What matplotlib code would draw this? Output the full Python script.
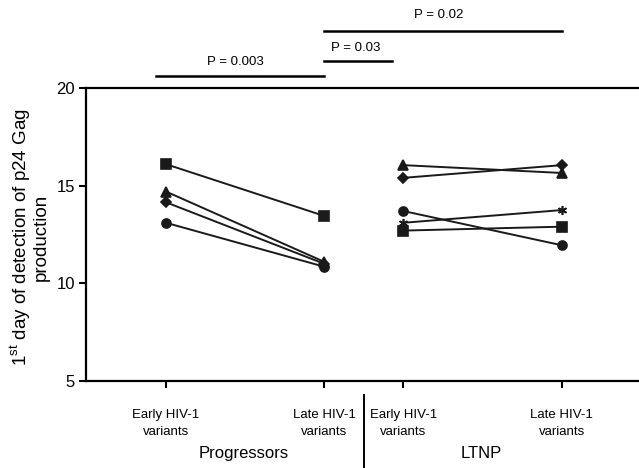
import matplotlib
matplotlib.use('Agg')
import matplotlib.pyplot as plt
from matplotlib.transforms import blended_transform_factory

plt.rcParams['font.family'] = ['Liberation Sans', 'DejaVu Sans']
plt.rcParams['mathtext.fontset'] = 'custom'
plt.rcParams['mathtext.rm'] = 'Liberation Sans'

# x positions of the four groups
prog_x = [1, 2]
ltnp_x = [2.5, 3.5]
tick_labels = ['Early HIV-1\nvariants', 'Late HIV-1\nvariants',
               'Early HIV-1\nvariants', 'Late HIV-1\nvariants']

# progressors (early, late)
prog_square = [16.1, 13.45]
prog_triangle = [14.7, 11.1]
prog_diamond = [14.15, 11.0]
prog_circle = [13.1, 10.85]

# LTNP (early, late)
ltnp_triangle = [16.05, 15.65]
ltnp_diamond = [15.4, 16.05]
ltnp_circle = [13.7, 11.95]
ltnp_star = [13.1, 13.75]
ltnp_square = [12.7, 12.9]

# significance bars: (x start, x end, y, label, label x, label y)
sig_bars = [
    (0.934, 2.0, 20.63, 'P = 0.003', 1.44, 21.32),
    (2.0, 2.43, 21.40, 'P = 0.03', 2.2, 22.06),
    (2.0, 3.5, 22.93, 'P = 0.02', 2.72, 23.74),
]

fig = plt.figure(figsize=(6.39, 4.68), dpi=100)
ax = fig.add_axes([0.1346, 0.1859, 0.8634, 0.6261])

lc = '#1a1a1a'
series = [
    (prog_x, prog_square, 's'), (prog_x, prog_triangle, '^'),
    (prog_x, prog_diamond, 'D'), (prog_x, prog_circle, 'o'),
    (ltnp_x, ltnp_triangle, '^'), (ltnp_x, ltnp_diamond, 'D'),
    (ltnp_x, ltnp_circle, 'o'), (ltnp_x, ltnp_star, (6, 2, 0)),
    (ltnp_x, ltnp_square, 's'),
]
for xs, ys, m in series:
    ms = 5 if m == 'D' else 6.5
    ax.plot(xs, ys, color=lc, lw=1.4, marker=m, ms=ms, mfc=lc, mec=lc, mew=1.2)

ax.set_xlim(0.495, 3.98)
ax.set_ylim(5, 20)
ax.set_yticks([5, 10, 15, 20])
ax.set_xticks(prog_x + ltnp_x)
ax.set_xticklabels(tick_labels, fontsize=9.5, linespacing=1.6)
ax.tick_params(axis='y', labelsize=12, length=5, width=1.5, direction='out', pad=3)
ax.tick_params(axis='x', length=5, width=1.5, direction='out', pad=15)
ax.spines['right'].set_visible(False)
for s in ['left', 'top', 'bottom']:
    ax.spines[s].set_linewidth(1.6)

ax.set_ylabel('1$^{\\mathrm{st}}$ day of detection of p24 Gag\nproduction',
              fontsize=13.5, linespacing=1.0)
ax.yaxis.set_label_coords(-0.065, 0.49)

for x0, x1, y, label, tx, ty in sig_bars:
    ax.plot([x0, x1], [y, y], color='black', lw=1.8, clip_on=False)
    ax.text(tx, ty, label, ha='center', va='center', fontsize=9.5)

# group labels and divider below the axis
trans = blended_transform_factory(ax.transData, fig.transFigure)
ax.text(1.49, 0.03, 'Progressors', transform=trans, ha='center', va='center', fontsize=12)
ax.text(2.99, 0.03, 'LTNP', transform=trans, ha='center', va='center', fontsize=12)
ax.plot([2.25, 2.25], [0.0, 0.155], color='black', lw=1.4, transform=trans, clip_on=False)

fig.savefig('out.png', dpi=100)
